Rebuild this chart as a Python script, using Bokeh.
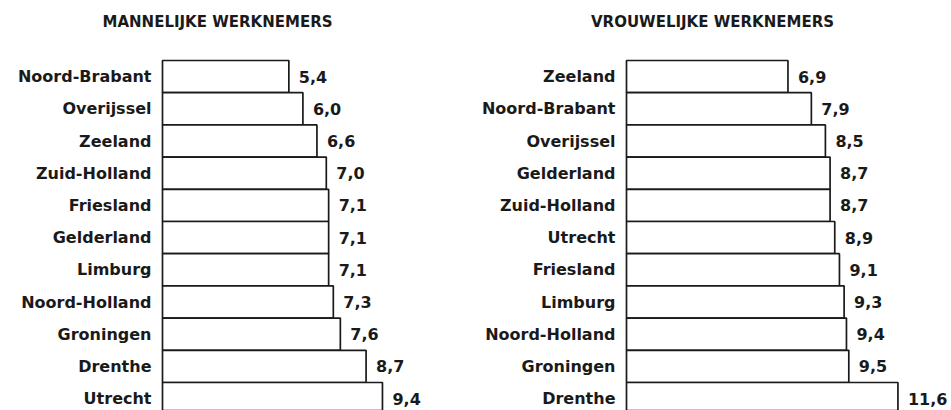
from bokeh.plotting import figure
from bokeh.layouts import row
from bokeh.models import ColumnDataSource, Range1d, Label
from bokeh.core.properties import value
from bokeh.embed import file_html
from bokeh.resources import INLINE

men_regions = ["Noord-Brabant", "Overijssel", "Zeeland", "Zuid-Holland", "Friesland",
               "Gelderland", "Limburg", "Noord-Holland", "Groningen", "Drenthe", "Utrecht"]
men_values = [5.4, 6.0, 6.6, 7.0, 7.1, 7.1, 7.1, 7.3, 7.6, 8.7, 9.4]

women_regions = ["Zeeland", "Noord-Brabant", "Overijssel", "Gelderland", "Zuid-Holland",
                 "Utrecht", "Friesland", "Limburg", "Noord-Holland", "Groningen", "Drenthe"]
women_values = [6.9, 7.9, 8.5, 8.7, 8.7, 8.9, 9.1, 9.3, 9.4, 9.5, 11.6]

titles = ["MANNELIJKE WERKNEMERS", "VROUWELIJKE WERKNEMERS"]

FONT = "DejaVu Sans"
H = 410
SCALE = 23.4      # px per unit
ROW_H = 32.2      # px per bar
TOP = 60          # px from top to first bar
INK = "#1a1a1a"


def panel(regions, values, title, W, x0, title_cx):
    y_end = -0.5 - TOP / ROW_H
    y_start = y_end + H / ROW_H
    p = figure(width=W, height=H, output_backend="svg", toolbar_location=None,
               x_range=Range1d(-x0 / SCALE, (W - x0) / SCALE),
               y_range=Range1d(y_start, y_end),
               x_axis_type=None, y_axis_type=None, min_border=0,
               outline_line_color=None, background_fill_color="white",
               border_fill_color="white")
    p.xgrid.visible = False
    p.ygrid.visible = False
    src = ColumnDataSource(dict(
        y=list(range(len(regions))),
        region=regions,
        val=values,
        lab=[f"{v:.1f}".replace(".", ",") for v in values],
    ))
    p.hbar(y="y", left=0, right="val", height=1.0, source=src,
           fill_color="white", line_color=INK, line_width=1.7)
    p.text(x=0, y="y", text="region", source=src, x_offset=-11,
           text_align="right", text_baseline="middle",
           text_font=value(FONT), text_font_style="bold",
           text_font_size="16px", text_color=INK)
    p.text(x="val", y="y", text="lab", source=src, x_offset=10,
           text_align="left", text_baseline="middle",
           text_font=value(FONT), text_font_style="bold",
           text_font_size="16px", text_color=INK)
    p.add_layout(Label(x=title_cx, y=H - 21, x_units="screen", y_units="screen",
                       text=title, text_align="center", text_baseline="middle",
                       text_font=FONT, text_font_style="bold",
                       text_font_size="15px", text_color=INK))
    return p


p1 = panel(men_regions, men_values, titles[0], 467, 162, 217)
p2 = panel(women_regions, women_values, titles[1], 484, 159, 245)
layout = row(p1, p2)

open("out.html", "w").write(file_html(layout, INLINE))
